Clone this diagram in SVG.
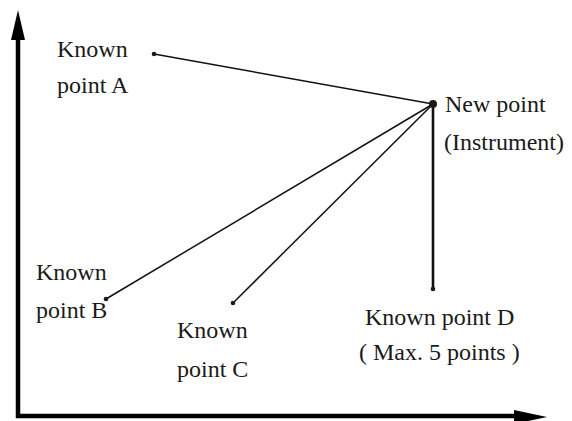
<svg xmlns="http://www.w3.org/2000/svg" width="572" height="421" viewBox="0 0 572 421">
<rect width="572" height="421" fill="#fff"/>
<g id="axes" fill="#000">
<path d="M18,418 V38" stroke="#000" stroke-width="4.5" fill="none"/>
<path d="M18,10 L11,40 L25,40 Z"/>
<path d="M16,416 H516" stroke="#000" stroke-width="4.5" fill="none"/>
<path d="M547,417 L514,410 L514,424 Z"/>
</g>
<g id="connectors" stroke="#111" stroke-width="1.5" fill="none">
<line x1="154" y1="54" x2="433" y2="104"/>
<line x1="433" y1="104" x2="106" y2="299"/>
<line x1="433" y1="104" x2="233" y2="303"/>
<line x1="433" y1="104" x2="433" y2="289" stroke-width="2.6"/>
</g>
<g id="nodes" fill="#1a1a1a">
<g id="pointA">
<circle cx="154" cy="54" r="2.3"/>
<text x="57" y="57" font-family="Liberation Serif, serif" font-size="24">Known</text>
<text x="57" y="93" font-family="Liberation Serif, serif" font-size="24">point A</text>
</g>
<g id="newPoint">
<circle cx="433" cy="104" r="4"/>
<text x="445" y="112" font-family="Liberation Serif, serif" font-size="24">New point</text>
<text x="444" y="150" font-family="Liberation Serif, serif" font-size="24">(Instrument)</text>
</g>
<g id="pointB">
<circle cx="106" cy="299" r="2.3"/>
<text x="36" y="280" font-family="Liberation Serif, serif" font-size="24">Known</text>
<text x="36" y="318" font-family="Liberation Serif, serif" font-size="24">point B</text>
</g>
<g id="pointC">
<circle cx="233" cy="303" r="2.3"/>
<text x="177" y="338" font-family="Liberation Serif, serif" font-size="24">Known</text>
<text x="177" y="377" font-family="Liberation Serif, serif" font-size="24">point C</text>
</g>
<g id="pointD">
<circle cx="433" cy="289" r="2.3"/>
<text x="365" y="325" font-family="Liberation Serif, serif" font-size="24">Known point D</text>
<text x="359" y="360" font-family="Liberation Serif, serif" font-size="24">( Max. 5 points )</text>
</g>
</g>
</svg>
